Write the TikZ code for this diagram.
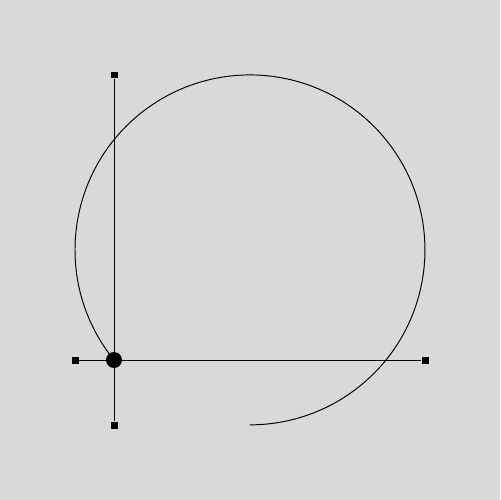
\documentclass[tikz,border=0pt]{standalone}
\usetikzlibrary{positioning,calc}
\definecolor{bggray}{HTML}{D9D9D9}
\tikzset{
  handle/.style={fill=black, inner sep=0pt, minimum size=0.14cm},
  wire/.style={draw=black, line width=0.55pt},
  knob/.style={fill=black}
}
\begin{document}
\begin{tikzpicture}[x=0.02cm, y=-0.02cm]
    \fill[bggray] (0,0) rectangle (500,500);
    \coordinate (ctr) at (250,250);
    \coordinate (c0) at (114,360);
    \node[handle] (hl) at (75,360) {};
    \node[handle] (hr) at (425,360) {};
    \node[handle] (ht) at (114,75) {};
    \node[handle] (hb) at (114,425) {};

    \draw[wire] (hl) -- (hr);
    \draw[wire] (ht) -- (hb);

    % curve round ctr, from the knob to the tail
    \draw[wire] (c0) arc[start angle=219, end angle=-90, radius=3.5cm] coordinate (tail);

    \fill[knob] (c0) circle (0.16cm);
\end{tikzpicture}
\end{document}
